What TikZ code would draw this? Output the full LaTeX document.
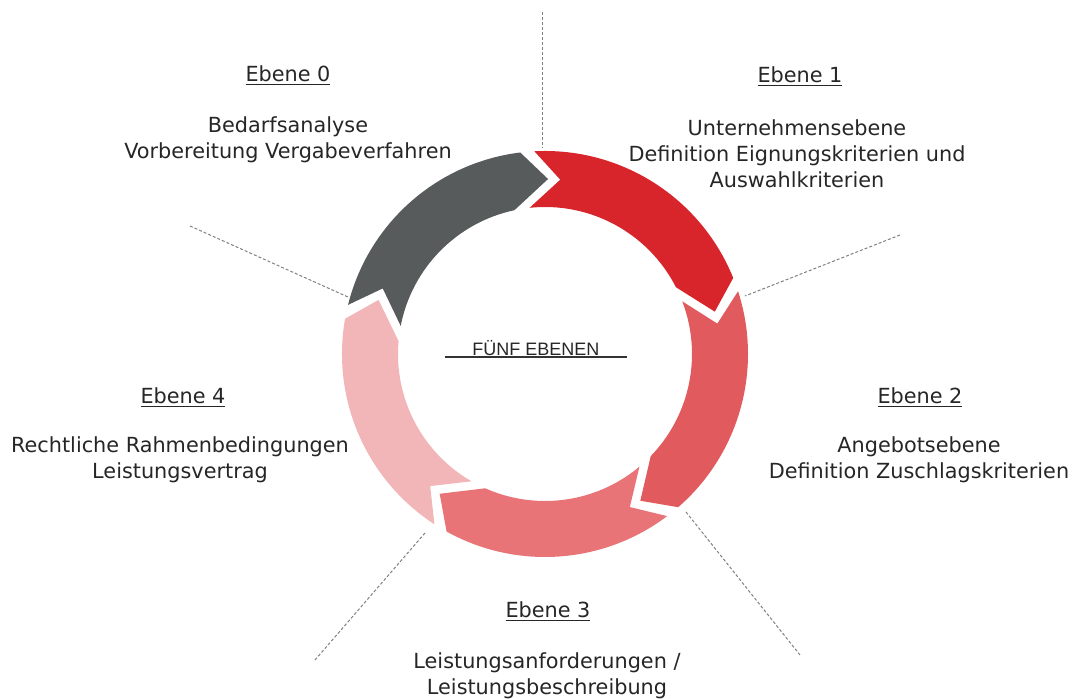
\documentclass[tikz,border=0pt]{standalone}
\usepackage{fontspec}
\setmainfont{DejaVu Sans}
\newfontfamily\centerfont{Liberation Sans}
\definecolor{ebgray}{HTML}{585B5C}
\definecolor{ebred}{HTML}{D8252B}
\definecolor{ebredb}{HTML}{E15A5E}
\definecolor{ebredc}{HTML}{E87478}
\definecolor{ebredd}{HTML}{F2B6B8}
\begin{document}
\begin{tikzpicture}[x=0.5pt,y=0.5pt]
    \tikzstyle{every node}=[inner sep=0pt,align=center,font=\fontsize{10.4}{13}\selectfont,text=black!85]
    \tikzstyle{guide}=[gray,line width=0.5pt,dash pattern=on 1.5pt off 1pt]
    \useasboundingbox (-545,-345) rectangle (532,354);
    %%%%% ring of arrows
    \fill[ebgray] (166:203) arc[start angle=166,end angle=97,radius=203] -- (89:175) -- (102:147) arc[start angle=102,end angle=169,radius=147] -- (158:175) -- cycle;
    \fill[ebred] (93:203) arc[start angle=93,end angle=22,radius=203] -- (14:175) -- (27:147) arc[start angle=27,end angle=96,radius=147] -- (85:175) -- cycle;
    \fill[ebredb] (18:203) arc[start angle=18,end angle=-49,radius=203] -- (-57:175) -- (-44:147) arc[start angle=-44,end angle=21,radius=147] -- (10:175) -- cycle;
    \fill[ebredc] (-53:203) arc[start angle=-53,end angle=-119,radius=203] -- (-127:175) -- (-114:147) arc[start angle=-114,end angle=-50,radius=147] -- (-61:175) -- cycle;
    \fill[ebredd] (-123:203) arc[start angle=-123,end angle=-190,radius=203] -- (-198:175) -- (-185:147) arc[start angle=-185,end angle=-120,radius=147] -- (-131:175) -- cycle;
    %%%%% centre
    \draw (-9,6) node (mid) {\centerfont\fontsize{9}{11}\selectfont F\"UNF EBENEN};
    \coordinate (midl) at (-100,-3);
    \coordinate (midr) at (82,-3);
    \draw[black!80,line width=0.6pt] (midl) -- (midr);
    %%%%% guide lines
    \coordinate (g0a) at (-2,342);
    \coordinate (g0b) at (-2,206);
    \coordinate (g1a) at (355,119);
    \coordinate (g1b) at (200,58);
    \coordinate (g2a) at (141,-158);
    \coordinate (g2b) at (255,-301);
    \coordinate (g3a) at (-120,-179);
    \coordinate (g3b) at (-230,-306);
    \coordinate (g4a) at (-355,128);
    \coordinate (g4b) at (-197,57);
    \draw[guide] (g0a) -- (g0b);
    \draw[guide] (g1a) -- (g1b);
    \draw[guide] (g2a) -- (g2b);
    \draw[guide] (g3a) -- (g3b);
    \draw[guide] (g4a) -- (g4b);
    %%%%% labels
    \draw (-257,278) node (t0) {\underline{Ebene 0}};
    \draw (-257,214) node (b0) {Bedarfsanalyse\\Vorbereitung Vergabeverfahren};
    \draw (255,277) node (t1) {\underline{Ebene 1}};
    \draw (252,200) node (b1) {Unternehmensebene\\Definition Eignungskriterien und\\Auswahlkriterien};
    \draw (375,-44) node (t2) {\underline{Ebene 2}};
    \draw (374,-106) node (b2) {Angebotsebene\\Definition Zuschlagskriterien};
    \draw (3,-258) node (t3) {\underline{Ebene 3}};
    \draw (2,-322) node (b3) {Leistungsanforderungen /\\Leistungsbeschreibung};
    \draw (-362,-44) node (t4) {\underline{Ebene 4}};
    \draw (-365,-106) node (b4) {Rechtliche Rahmenbedingungen\\Leistungsvertrag};
\end{tikzpicture}
\end{document}
